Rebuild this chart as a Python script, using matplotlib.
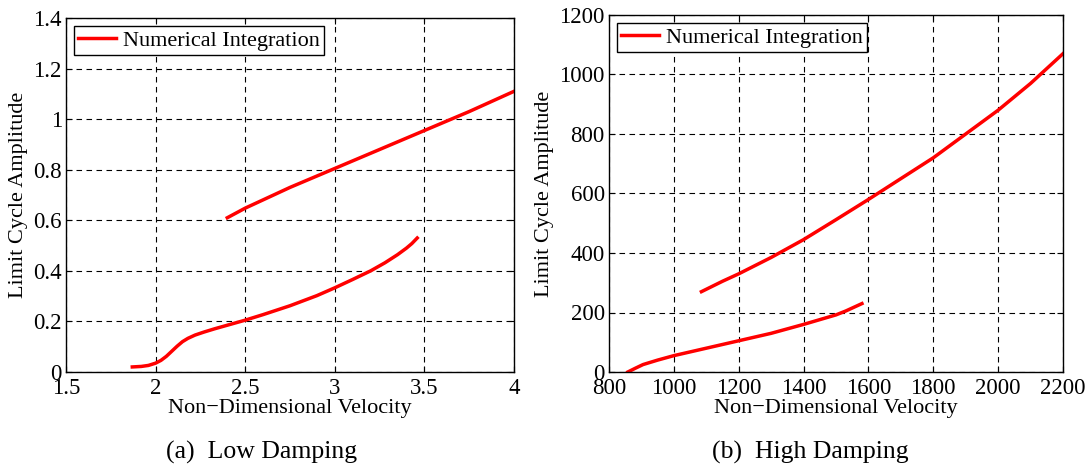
import matplotlib
matplotlib.use("Agg")
import matplotlib.pyplot as plt

plt.rcParams['font.family'] = ['Liberation Serif', 'DejaVu Serif']

# low damping branches
low_up_x = [2.40, 2.5, 2.75, 3.0, 3.25, 3.5, 3.75, 4.0]
low_up_y = [0.61, 0.648, 0.73, 0.805, 0.88, 0.955, 1.03, 1.11]
low_lo_x = [1.87, 1.92, 1.96, 2.0, 2.03, 2.06, 2.09, 2.12, 2.15, 2.18, 2.22, 2.27, 2.33,
            2.4, 2.5, 2.6, 2.75, 2.9, 3.0, 3.1, 3.2, 3.28, 3.35, 3.4, 3.43, 3.46]
low_lo_y = [0.02, 0.022, 0.026, 0.035, 0.046, 0.062, 0.082, 0.102, 0.12, 0.133, 0.146, 0.158, 0.171,
            0.185, 0.205, 0.227, 0.262, 0.302, 0.333, 0.366, 0.40, 0.432, 0.464, 0.49, 0.508, 0.53]

# high damping branches
high_up_x = [1085, 1150, 1200, 1300, 1400, 1500, 1600, 1700, 1800, 1900, 2000, 2100, 2200]
high_up_y = [270, 305, 330, 385, 445, 512, 580, 650, 720, 800, 880, 970, 1070]
high_lo_x = [858, 880, 905, 950, 1000, 1100, 1200, 1300, 1400, 1500, 1530, 1580]
high_lo_y = [0, 12, 25, 40, 55, 80, 105, 130, 160, 192, 205, 230]

fig = plt.figure(figsize=(10.89, 4.68), dpi=100)
ax1 = fig.add_axes([66/1089, 1-372/468, 448/1089, 354/468])
ax2 = fig.add_axes([609/1089, 1-372/468, 454/1089, 357/468])

lw = 2.5
ax1.plot(low_up_x, low_up_y, color='red', lw=lw, label='Numerical Integration')
ax1.plot(low_lo_x, low_lo_y, color='red', lw=lw)
ax1.set_xlim(1.5, 4)
ax1.set_ylim(0, 1.4)
ax1.set_xticks([1.5, 2, 2.5, 3, 3.5, 4])
ax1.set_xticklabels(['1.5', '2', '2.5', '3', '3.5', '4'])
ax1.set_yticks([0, 0.2, 0.4, 0.6, 0.8, 1, 1.2, 1.4])
ax1.set_yticklabels(['0', '0.2', '0.4', '0.6', '0.8', '1', '1.2', '1.4'])

ax2.plot(high_up_x, high_up_y, color='red', lw=lw, label='Numerical Integration')
ax2.plot(high_lo_x, high_lo_y, color='red', lw=lw)
ax2.set_xlim(800, 2200)
ax2.set_ylim(0, 1200)
ax2.set_xticks(range(800, 2201, 200))
ax2.set_yticks(range(0, 1201, 200))

for ax in (ax1, ax2):
    ax.grid(True, color='black', linestyle=(0, (5, 4)), linewidth=0.8)
    ax.tick_params(direction='in', labelsize=16.5, length=4, top=True, right=True)
    ax.tick_params(axis='x', pad=4)
    ax.tick_params(axis='y', pad=3)
    for s in ax.spines.values():
        s.set_linewidth(1.0)
    ax.set_xlabel('Non\u2212Dimensional Velocity', fontsize=16, labelpad=0)
    ax.set_ylabel('Limit Cycle Amplitude', fontsize=16, labelpad=4)
    leg = ax.legend(loc='upper left', fontsize=16, fancybox=False, framealpha=1,
                    edgecolor='black', handlelength=1.7, handletextpad=0.3,
                    borderpad=0.2, borderaxespad=0.35)
    leg.get_frame().set_linewidth(1.0)

fig.text(262/1089, 1-452/468, '(a)  Low Damping', fontsize=18.5, ha='center', va='center')
fig.text(810/1089, 1-452/468, '(b)  High Damping', fontsize=18.5, ha='center', va='center')

fig.savefig('out.png', dpi=100)
